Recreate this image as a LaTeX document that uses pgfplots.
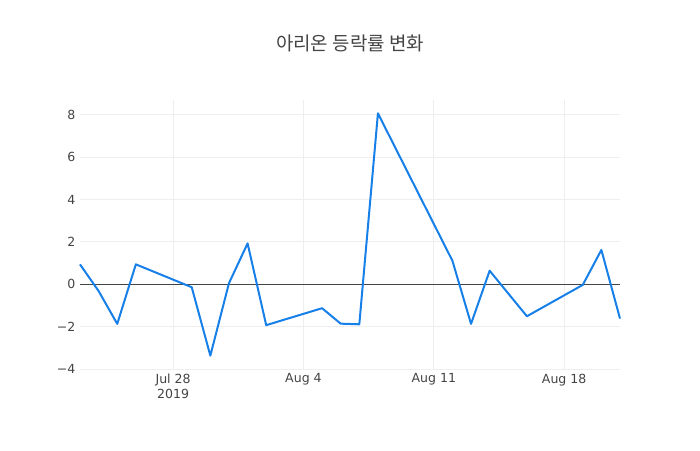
\documentclass[border=0pt]{standalone}
\usepackage{pgfplots}
\pgfplotsset{compat=1.18}
\usepackage{fontspec}
\setmainfont{DejaVu Sans}
\newfontfamily\cjk{Noto Sans CJK KR}
\definecolor{txt}{HTML}{444444}
\definecolor{gridc}{HTML}{EEEEEE}
\definecolor{lineblue}{RGB}{22,128,232}

% day index: 0 = Jul 23, 2019
\pgfplotstableread{
day value
0  0.94
1  -0.32
2  -1.87
3  0.94
6  -0.14
7  -3.37
8  0.05
9  1.93
10 -1.93
13 -1.13
14 -1.86
15 -1.89
16 8.07
20 1.11
21 -1.87
22 0.64
24 -1.51
27 -0.03
28 1.62
29 -1.62
}\rates

\begin{document}
\begin{tikzpicture}
\useasboundingbox (0,0) rectangle (525pt,337.5pt);
\node[text=txt, font=\cjk\fontsize{14.2}{16}\selectfont] at (262.5pt,305.25pt) {아리온 등락률 변화};
\begin{axis}[
    at={(60pt,60.75pt)}, anchor=south west,
    scale only axis,
    width=405pt, height=201.75pt,
    xmin=0, xmax=29,
    ymin=-4, ymax=8.7,
    axis line style={draw=none},
    tick style={draw=none},
    xtick={5,12,19,26},
    xticklabels={{Jul 28\\2019},Aug 4,Aug 11,Aug 18},
    xticklabel style={align=center, font=\fontsize{9.4}{11.5}\selectfont, text=txt},
    ytick={-4,-2,0,2,4,6,8},
    yticklabel style={font=\fontsize{9.4}{11}\selectfont, text=txt},
    yticklabel={\ifdim\tick pt<0pt \char"2212\pgfmathprintnumber[assume math mode=true]{\fpeval{abs(\tick)}}\else\pgfmathprintnumber[assume math mode=true]{\tick}\fi},
    grid=major,
    major grid style={gridc, line width=0.75pt},
    clip=false,
]
\addplot[draw=txt, line width=0.75pt, forget plot] coordinates {(0,0) (29,0)};
\addplot[lineblue, line width=1.5pt, line join=round] table[x=day, y=value] {\rates};
\end{axis}
\end{tikzpicture}
\end{document}
